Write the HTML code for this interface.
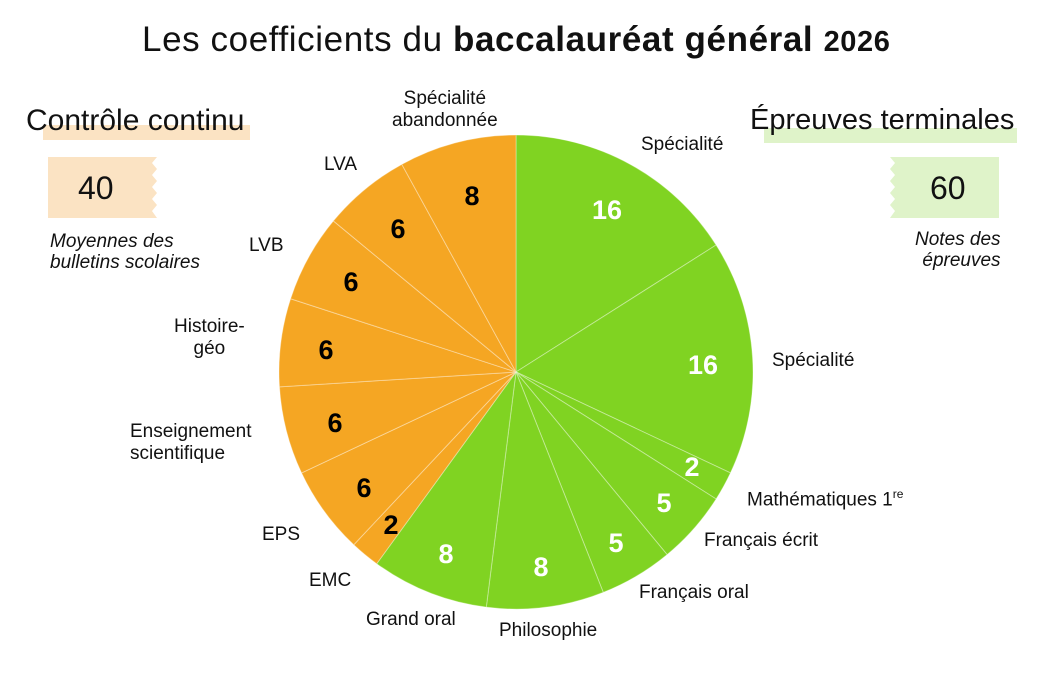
<!DOCTYPE html>
<html><head><meta charset="utf-8"><style>
body{margin:0;width:1051px;height:679px;background:#fff;position:relative;overflow:hidden;font-family:"Liberation Sans",sans-serif;color:#111}
.a{position:absolute;white-space:nowrap}
.l{font-size:19px;line-height:22px}
</style></head><body>
<div class="a" style="left:142px;top:20px;font-size:35px;letter-spacing:0.6px">Les coefficients du <b>baccalauréat général</b> <b style="font-size:29px">2026</b></div>
<div class="a" style="left:43px;top:125px;width:207px;height:15px;background:#fbe3c3"></div>
<div class="a" style="left:26px;top:104px;font-size:30px">Contrôle continu</div>
<div class="a" style="left:764px;top:128px;width:253px;height:15px;background:#dff3c9"></div>
<div class="a" style="left:750px;top:104px;font-size:29px">Épreuves terminales</div>
<svg class="a" style="left:0;top:0" width="1051" height="679">
<path d="M48 157H157l-5 6 5 6-5 6 5 6-5 6 5 6-5 6 5 6-5 6 5 7H48Z" fill="#fbe3c3"/>
<path d="M890 157H999V218H890l5-7-5-6 5-6-5-6 5-6-5-6 5-6-5-6 5-6-5-6Z" fill="#dff3c9"/>
<g id="pie"></g>
</svg>
<div class="a" style="left:78px;top:170px;font-size:32px">40</div>
<div class="a" style="left:930px;top:170px;font-size:32px">60</div>
<div class="a" style="left:50px;top:231px;font-size:19px;font-style:italic;line-height:21px">Moyennes des<br>bulletins scolaires</div>
<div class="a" style="left:915px;top:229px;font-size:19px;font-style:italic;line-height:21px;text-align:right">Notes des<br>épreuves</div>
<div class="a l" style="left:392px;top:88px;text-align:center">Spécialité<br>abandonnée</div>
<div class="a l" style="left:641px;top:134px">Spécialité</div>
<div class="a l" style="left:324px;top:154px">LVA</div>
<div class="a l" style="left:249px;top:235px">LVB</div>
<div class="a l" style="left:174px;top:316px;text-align:center">Histoire-<br>géo</div>
<div class="a l" style="left:772px;top:350px">Spécialité</div>
<div class="a l" style="left:130px;top:421px">Enseignement<br>scientifique</div>
<div class="a l" style="left:747px;top:483px">Mathématiques 1<sup style="font-size:12px">re</sup></div>
<div class="a l" style="left:704px;top:530px">Français écrit</div>
<div class="a l" style="left:262px;top:524px">EPS</div>
<div class="a l" style="left:309px;top:570px">EMC</div>
<div class="a l" style="left:639px;top:582px">Français oral</div>
<div class="a l" style="left:366px;top:609px">Grand oral</div>
<div class="a l" style="left:499px;top:620px">Philosophie</div>
<script>
var cx=516,cy=372,r=237,d=[[16,'g'],[16,'g'],[2,'g'],[5,'g'],[5,'g'],[8,'g'],[8,'g'],[2,'o'],[6,'o'],[6,'o'],[6,'o'],[6,'o'],[6,'o'],[8,'o']];
var pos=[[607,209],[703,364],[692,466],[664,502],[616,542],[541,566],[446,553],[391,524],[364,487],[335,422],[326,349],[351,281],[398,228],[472,195]];
var s='',a0=0;
function pt(a,rr){var t=a*3.6*Math.PI/180;return [cx+rr*Math.sin(t),cy-rr*Math.cos(t)];}
d.forEach(function(v,i){var a1=a0+v[0],p=pt(a0,r),q=pt(a1,r),c=v[1]=='g'?'#80d322':'#f5a623';
s+='<path d="M'+cx+' '+cy+'L'+p[0]+' '+p[1]+'A'+r+' '+r+' 0 0 1 '+q[0]+' '+q[1]+'Z" fill="'+c+'" stroke="rgba(255,255,255,0.35)" stroke-width="1"/>';
var m=pos[i];
s+='<text x="'+m[0]+'" y="'+(m[1]+10)+'" text-anchor="middle" font-family="Liberation Sans" font-weight="bold" font-size="27" fill="'+(v[1]=='g'?'#fff':'#000')+'">'+v[0]+'</text>';a0=a1;});
document.getElementById('pie').innerHTML=s;
</script>
</body></html>
